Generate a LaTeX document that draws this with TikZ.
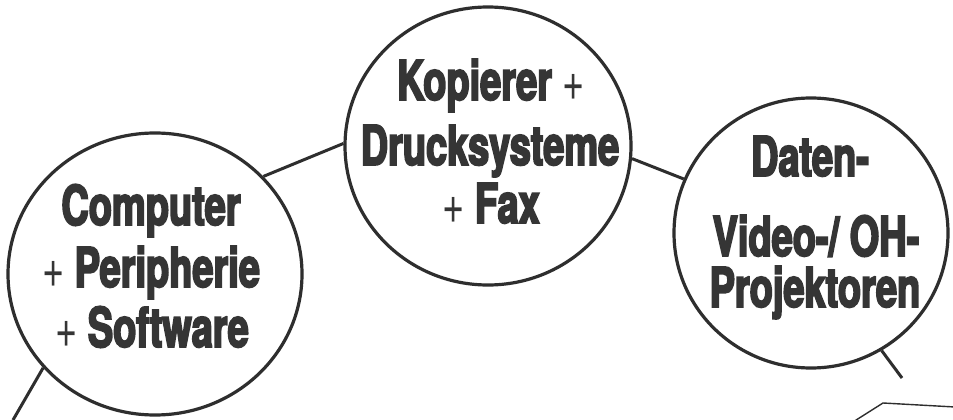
\documentclass[tikz,border=0pt]{standalone}
\usepackage{fontspec}
\setmainfont{TeX Gyre Heros}
\newfontfamily\heavy{TeX Gyre Heros}[FakeStretch=0.69, BoldFeatures={FakeBold=3.2}]
\newcommand\plusmark{{\mdseries+}}
\usetikzlibrary{shapes.geometric}
\definecolor{ink}{HTML}{2E2E2E}
\definecolor{type}{HTML}{353535}
\begin{document}
\begin{tikzpicture}[x=1pt,y=-1pt]
  \tikzset{
    bubble/.style={ellipse, draw=ink, line width=3.2pt, inner sep=0pt},
    wire/.style={draw=ink, line width=3pt},
    txt/.style={font=\heavy\bfseries\fontsize{55}{55}\selectfont, text=type,
                anchor=base, inner sep=0pt},
    sketch/.style={draw=ink, line width=1.4pt}
  }
  % page frame
  \path[use as bounding box, fill=white] (0,0) rectangle (953,420);

  % the three product bubbles
  \node[bubble, minimum width=294pt, minimum height=282pt] (pc) at (155,274) {};
  \node[bubble, minimum width=286pt, minimum height=278pt] (kd) at (488,146) {};
  \node[bubble, minimum width=274pt, minimum height=270pt] (dv) at (811,233) {};

  % bubble texts, one node per line
  \node[txt] (pc1) at (151,225) {Computer};
  \node[txt] (pc2) at (151,287) {\plusmark\ Peripherie};
  \node[txt] (pc3) at (152,347) {\plusmark\ Software};

  \node[txt] (kd1) at (491,100) {Kopierer \plusmark};
  \node[txt] (kd2) at (490,165) {Drucksysteme};
  \node[txt] (kd3) at (491,223) {\plusmark\ Fax};

  \node[txt] (dv1) at (810,176) {Daten-};
  \node[txt] (dv2) at (816,256) {Video-/ OH-};
  \node[txt] (dv3) at (815,307) {Projektoren};

  % connectors
  \coordinate (endL) at (13,420);
  \coordinate (endR) at (902,378);
  \draw[wire] (pc.220.5) -- (endL);
  \draw[wire] (pc.42) -- (kd.179);
  \draw[wire] (kd.355.6) -- (dv.157.6);
  \draw[wire] (dv.301.3) -- (endR);

  % thin outline running off the lower right corner
  \coordinate (s1) at (853,422);
  \coordinate (s2) at (883,403);
  \coordinate (s3) at (955,407);
  \draw[sketch] (s1) -- (s2) -- (s3);
\end{tikzpicture}
\end{document}
